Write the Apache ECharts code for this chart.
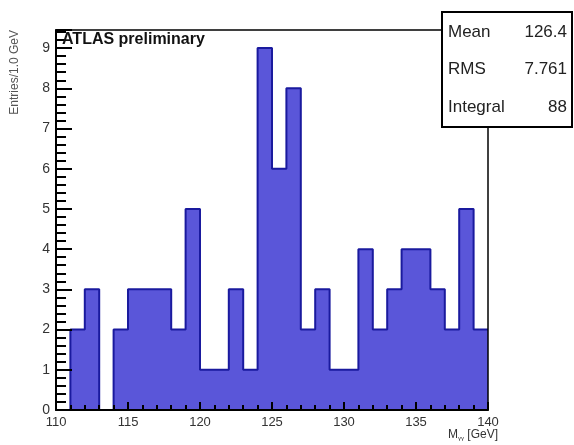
<!DOCTYPE html>
<html>
<head>
<meta charset="utf-8">
<script src="https://cdn.jsdelivr.net/npm/echarts@6/dist/echarts.min.js"></script>
<style>
  html, body { margin: 0; padding: 0; background: #fff; }
  #chart { width: 574px; height: 445px; }
</style>
</head>
<body>
<div id="chart"></div>
<script>
// Diphoton invariant mass spectrum, 1 GeV bins between 110 and 140 GeV
const binLowEdges = [110, 111, 112, 113, 114, 115, 116, 117, 118, 119,
                     120, 121, 122, 123, 124, 125, 126, 127, 128, 129,
                     130, 131, 132, 133, 134, 135, 136, 137, 138, 139];
const binCounts   = [0, 2, 3, 0, 2, 3, 3, 3, 2, 5,
                     1, 1, 3, 1, 9, 6, 8, 2, 3, 1,
                     1, 4, 2, 3, 4, 4, 3, 2, 5, 2];
const xUpperEdge = 140;

// statistics box
const statNames  = ['Mean', 'RMS', 'Integral'];
const statValues = ['126.4', '7.761', '88'];

const FONT = 'Liberation Sans, Arial, Helvetica, sans-serif';

// histogram outline as a step line: each point is a bin's low edge
const stepData = binLowEdges.map((x, i) => [x, binCounts[i]]);
stepData.push([xUpperEdge, binCounts[binCounts.length - 1]]);

const chart = echarts.init(document.getElementById('chart'), null, { renderer: 'canvas' });

const statGraphics = [{
  type: 'rect',
  shape: { x: 442, y: 12, width: 130, height: 115 },
  style: { fill: '#fff', stroke: '#000', lineWidth: 2 },
  z: 100
}];
statNames.forEach((name, i) => {
  const y = 32 + i * 37.5;
  statGraphics.push({
    type: 'text', x: 448, y: y, z: 101,
    style: { text: name, font: '17px ' + FONT, fill: '#222', verticalAlign: 'middle', align: 'left' }
  });
  statGraphics.push({
    type: 'text', x: 567, y: y, z: 101,
    style: { text: statValues[i], font: '17px ' + FONT, fill: '#222', verticalAlign: 'middle', align: 'right' }
  });
});

chart.setOption({
  animation: false,
  backgroundColor: '#fff',
  title: {
    text: 'ATLAS preliminary',
    left: 62, top: 32, padding: 0,
    textStyle: { fontFamily: FONT, fontSize: 16, fontWeight: 'bold', color: '#111' }
  },
  grid: { left: 56, right: 86, top: 30, bottom: 35, containLabel: false },
  xAxis: [{
    type: 'value',
    min: 110, max: 140, interval: 5,
    position: 'bottom', z: 5,
    axisLine: { show: true, onZero: false, lineStyle: { color: '#000', width: 2 } },
    axisTick: { show: true, inside: true, length: 8, lineStyle: { color: '#000', width: 2 } },
    minorTick: { show: true, splitNumber: 5, length: 5, lineStyle: { color: '#000', width: 2 } },
    axisLabel: { color: '#333', fontFamily: FONT, fontSize: 13, margin: 6 },
    splitLine: { show: false }
  }, {
    type: 'value',
    min: 110, max: 140,
    position: 'top', z: 5,
    axisLine: { show: true, onZero: false, lineStyle: { color: '#000', width: 1.5 } },
    axisTick: { show: false }, axisLabel: { show: false }, splitLine: { show: false }
  }],
  yAxis: [{
    type: 'value',
    min: 0, max: 9.45, interval: 1,
    position: 'left', z: 5,
    axisLine: { show: true, onZero: false, lineStyle: { color: '#000', width: 2 } },
    axisTick: { show: true, inside: true, length: 16, lineStyle: { color: '#000', width: 2 } },
    minorTick: { show: true, splitNumber: 5, length: 10, lineStyle: { color: '#000', width: 2 } },
    axisLabel: { color: '#333', fontFamily: FONT, fontSize: 14, margin: 6, showMaxLabel: false },
    splitLine: { show: false }
  }, {
    type: 'value',
    min: 0, max: 9.45,
    position: 'right', z: 5,
    axisLine: { show: true, onZero: false, lineStyle: { color: '#000', width: 1.5 } },
    axisTick: { show: false }, axisLabel: { show: false }, splitLine: { show: false }
  }],
  series: [{
    type: 'line',
    xAxisIndex: 0, yAxisIndex: 0,
    step: 'end',
    data: stepData,
    symbol: 'none',
    lineStyle: { color: '#1a1a9e', width: 2 },
    areaStyle: { color: '#5a56d9', opacity: 1 },
    z: 2
  }],
  graphic: [
    {
      type: 'text', x: 15, y: 30, rotation: Math.PI / 2,
      style: { text: 'Entries/1.0 GeV', font: '12px ' + FONT, fill: '#555', align: 'right', verticalAlign: 'middle' }
    },
    {
      type: 'text', right: 76, top: 429,
      style: {
        text: '{m|M}{s|γγ} [GeV]',
        font: '12px ' + FONT, fill: '#333',
        rich: {
          m: { font: '12px ' + FONT, fill: '#333' },
          s: { font: '6px ' + FONT, fill: '#333', verticalAlign: 'bottom', padding: [6, 0, 0, 0] }
        }
      }
    }
  ].concat(statGraphics)
});
</script>
</body>
</html>
